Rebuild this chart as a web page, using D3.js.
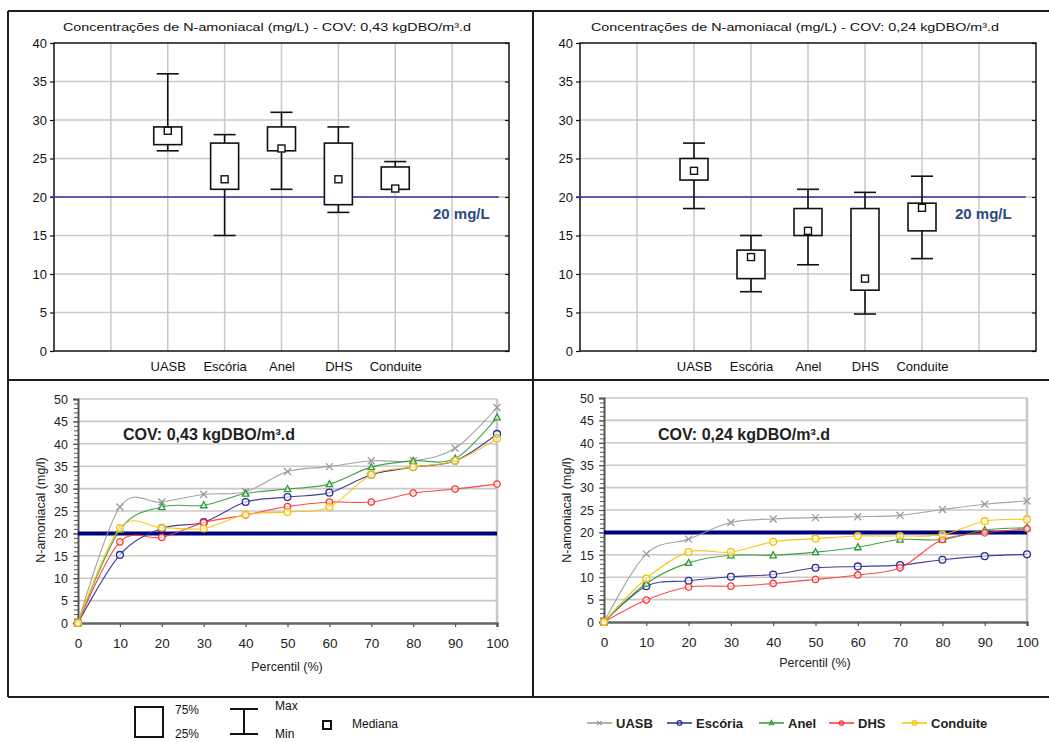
<!DOCTYPE html>
<html>
<head>
<meta charset="utf-8">
<script src="https://cdn.jsdelivr.net/npm/d3@7"></script>
<style>
  html, body { margin: 0; padding: 0; background: #fff; }
  svg { display: block; font-family: "Liberation Sans", Arial, sans-serif; }
</style>
</head>
<body>
<svg id="chart" width="1049" height="742"></svg>
<script>
// ---- Data ---------------------------------------------------------------
const categories = ["UASB", "Escória", "Anel", "DHS", "Conduite"];

// Box plots: N-amoniacal (mg/L), COV 0,43 kgDBO/m³.d
const min43    = [26.0, 15.0, 21.0, 18.0, 21.0];
const q1_43    = [26.8, 21.0, 26.0, 19.0, 21.0];
const median43 = [28.6, 22.3, 26.3, 22.3, 21.1];
const q3_43    = [29.1, 27.0, 29.1, 27.0, 23.9];
const max43    = [36.0, 28.1, 31.0, 29.1, 24.6];

// Box plots: COV 0,24 kgDBO/m³.d
const min24    = [18.5, 7.7, 11.2, 4.8, 12.0];
const q1_24    = [22.2, 9.4, 15.0, 7.9, 15.6];
const median24 = [23.4, 12.2, 15.6, 9.4, 18.6];
const q3_24    = [25.0, 13.1, 18.5, 18.5, 19.2];
const max24    = [27.0, 15.0, 21.0, 20.6, 22.7];

const boxTicks = [0, 5, 10, 15, 20, 25, 30, 35, 40];
const limitValue = 20;
const limitLabel = "20 mg/L";

// Percentile curves
const percentiles = [0, 10, 20, 30, 40, 50, 60, 70, 80, 90, 100];
const uasb43     = [0, 25.9, 27.0, 28.7, 29.3, 33.8, 34.9, 36.2, 36.2, 39.0, 48.1];
const escoria43  = [0, 15.2, 21.1, 22.5, 27.0, 28.1, 29.1, 33.1, 34.8, 36.2, 42.2];
const anel43     = [0, 20.8, 25.9, 26.3, 28.9, 29.9, 31.0, 34.8, 36.2, 36.7, 45.9];
const dhs43      = [0, 18.1, 19.1, 22.4, 24.1, 26.0, 27.0, 27.0, 29.0, 29.9, 31.0];
const conduite43 = [0, 21.2, 21.3, 21.1, 24.2, 24.8, 25.9, 33.1, 34.8, 36.2, 41.2];

const uasb24     = [0, 15.2, 18.5, 22.2, 23.0, 23.3, 23.5, 23.8, 25.1, 26.3, 27.0];
const escoria24  = [0, 8.0, 9.2, 10.1, 10.6, 12.1, 12.4, 12.7, 13.9, 14.7, 15.1];
const anel24     = [0, 8.6, 13.2, 14.9, 14.9, 15.6, 16.7, 18.4, 18.4, 20.5, 21.0];
const dhs24      = [0, 4.9, 7.8, 8.0, 8.6, 9.5, 10.5, 12.1, 18.4, 19.9, 20.8];
const conduite24 = [0, 9.7, 15.6, 15.6, 17.9, 18.6, 19.2, 19.2, 19.5, 22.5, 22.9];

const lineTicksY = [0, 5, 10, 15, 20, 25, 30, 35, 40, 45, 50];
const lineTicksX = [0, 10, 20, 30, 40, 50, 60, 70, 80, 90, 100];

const seriesStyle = [
  { name: "UASB",     color: "#9a9a9a", marker: "cross" },
  { name: "Escória",  color: "#2b2b95", marker: "circle" },
  { name: "Anel",     color: "#2f9a34", marker: "triangle" },
  { name: "DHS",      color: "#ff3333", marker: "diamond" },
  { name: "Conduite", color: "#f7c000", marker: "circle" }
];

const svg = d3.select("#chart");
const FONT = "'Liberation Sans', Arial, sans-serif";

// ---- Panel frame --------------------------------------------------------
const frame = svg.append("g").attr("stroke", "#1e1e1e").attr("stroke-width", 2);
[[8, 11, 1049, 11], [8, 380, 1049, 380], [8, 697, 1049, 697],
 [8, 11, 8, 697], [533, 11, 533, 697]].forEach(l =>
  frame.append("line").attr("x1", l[0]).attr("y1", l[1]).attr("x2", l[2]).attr("y2", l[3]));

// ---- Box-plot panel -----------------------------------------------------
function boxPanel(o) {
  const g = svg.append("g");
  const x = d3.scaleLinear().domain([0, 8]).range([o.left, o.right]);
  const y = d3.scaleLinear().domain([0, 40]).range([o.bottom, o.top]);

  // grid
  g.append("g").selectAll("line").data(d3.range(1, 8)).join("line")
    .attr("x1", d => x(d)).attr("x2", d => x(d))
    .attr("y1", o.top).attr("y2", o.bottom)
    .attr("stroke", "#c9c9c9").attr("stroke-width", 1.5);
  g.append("g").selectAll("line").data(boxTicks.slice(1, -1)).join("line")
    .attr("x1", o.left).attr("x2", o.right)
    .attr("y1", d => y(d)).attr("y2", d => y(d))
    .attr("stroke", "#c9c9c9").attr("stroke-width", 1.5);

  // frame
  g.append("rect").attr("x", o.left).attr("y", o.top)
    .attr("width", o.right - o.left).attr("height", o.bottom - o.top)
    .attr("fill", "none").attr("stroke", "#111").attr("stroke-width", 1.5);

  // y axis
  const ya = g.append("g").attr("transform", `translate(${o.left},0)`)
    .call(d3.axisLeft(y).tickValues(boxTicks).tickSize(4).tickPadding(3));
  ya.select(".domain").remove();
  ya.selectAll("line").attr("stroke", "#111").attr("stroke-width", 1.2);
  ya.selectAll("text").attr("font-family", FONT).attr("font-size", 13).attr("fill", "#111");
  const yr = g.append("g").attr("transform", `translate(${o.right},0)`)
    .call(d3.axisLeft(y).tickValues(boxTicks).tickSize(4).tickFormat(""));
  yr.select(".domain").remove();
  yr.selectAll("line").attr("stroke", "#111").attr("stroke-width", 1.2);

  // x axis labels
  const xa = g.append("g").attr("transform", `translate(0,${o.bottom})`)
    .call(d3.axisBottom(x).tickValues(d3.range(1, 8)).tickSize(0).tickPadding(11)
      .tickFormat(d => categories[d - 2] || ""));
  xa.select(".domain").remove();
  xa.selectAll("text").attr("font-family", FONT).attr("font-size", 13).attr("fill", "#111");

  // title
  g.append("text").attr("x", o.titleX).attr("y", 31).attr("text-anchor", "middle")
    .attr("font-family", FONT).attr("font-size", 11.5).attr("fill", "#111")
    .attr("textLength", 408).attr("lengthAdjust", "spacingAndGlyphs")
    .text(o.title);

  // limit line
  g.append("line").attr("x1", x(-0.07)).attr("x2", x(7.82))
    .attr("y1", y(limitValue)).attr("y2", y(limitValue))
    .attr("stroke", "#3535a5").attr("stroke-width", 1.3);
  g.append("text").attr("x", o.labelX).attr("y", y(limitValue) + 22)
    .attr("font-family", FONT).attr("font-size", 15).attr("font-weight", "bold")
    .attr("fill", "#2c4a7e").text(limitLabel);

  // boxes
  const rows = categories.map((c, i) => ({
    c, pos: i + 2, min: o.min[i], q1: o.q1[i], med: o.med[i], q3: o.q3[i], max: o.max[i]
  }));
  const bw = 28, cw = 22, ms = 7;
  const bx = g.append("g").attr("stroke", "#111").attr("stroke-width", 1.6);
  rows.forEach(r => {
    const cx = x(r.pos);
    bx.append("line").attr("x1", cx).attr("x2", cx).attr("y1", y(r.max)).attr("y2", y(r.q3));
    bx.append("line").attr("x1", cx).attr("x2", cx).attr("y1", y(r.q1)).attr("y2", y(r.min));
    bx.append("line").attr("x1", cx - cw / 2).attr("x2", cx + cw / 2).attr("y1", y(r.max)).attr("y2", y(r.max));
    bx.append("line").attr("x1", cx - cw / 2).attr("x2", cx + cw / 2).attr("y1", y(r.min)).attr("y2", y(r.min));
    bx.append("rect").attr("x", cx - bw / 2).attr("y", y(r.q3))
      .attr("width", bw).attr("height", y(r.q1) - y(r.q3)).attr("fill", "#fff");
    bx.append("rect").attr("x", cx - ms / 2).attr("y", y(r.med) - ms / 2)
      .attr("width", ms).attr("height", ms).attr("fill", "#fff").attr("stroke-width", 1.4);
  });
}

boxPanel({
  left: 54, right: 509, top: 43, bottom: 351, titleX: 267, labelX: 433,
  title: "Concentrações de N-amoniacal (mg/L) - COV: 0,43 kgDBO/m³.d",
  min: min43, q1: q1_43, med: median43, q3: q3_43, max: max43
});
boxPanel({
  left: 580, right: 1036, top: 43, bottom: 351, titleX: 795, labelX: 955,
  title: "Concentrações de N-amoniacal (mg/L) - COV: 0,24 kgDBO/m³.d",
  min: min24, q1: q1_24, med: median24, q3: q3_24, max: max24
});

// ---- Percentile panels --------------------------------------------------
function markerPath(type, s) {
  if (type === "cross") return `M${-s},${-s}L${s},${s}M${-s},${s}L${s},${-s}`;
  if (type === "triangle") return `M0,${-s * 1.1}L${s},${s * 0.8}L${-s},${s * 0.8}Z`;
  if (type === "diamond") return d3.symbol(d3.symbolCircle, s * s * 3.2)();
  return d3.symbol(d3.symbolCircle, s * s * 3.6)();
}

function linePanel(o) {
  const g = svg.append("g");
  const x = d3.scaleLinear().domain([0, 100]).range([o.left, o.right]);
  const y = d3.scaleLinear().domain([0, 50]).range([o.bottom, o.top]);

  // horizontal grid
  g.append("g").selectAll("line").data(lineTicksY.slice(1)).join("line")
    .attr("x1", o.left).attr("x2", o.right)
    .attr("y1", d => y(d)).attr("y2", d => y(d))
    .attr("stroke", "#c8c8c8").attr("stroke-width", 1.6);
  // right border of plot area
  g.append("line").attr("x1", o.right).attr("x2", o.right)
    .attr("y1", o.top).attr("y2", o.bottom)
    .attr("stroke", "#c8c8c8").attr("stroke-width", 2.5);

  // y axis with minor ticks
  const yMinor = g.append("g").attr("transform", `translate(${o.left},0)`)
    .call(d3.axisLeft(y).tickValues(d3.range(0, 51, 1)).tickSize(4).tickFormat(""));
  yMinor.select(".domain").remove();
  yMinor.selectAll("line").attr("stroke", "#555").attr("stroke-width", 1);
  const ya = g.append("g").attr("transform", `translate(${o.left},0)`)
    .call(d3.axisLeft(y).tickValues(lineTicksY).tickSize(5).tickPadding(6));
  ya.select(".domain").attr("stroke", "#555").attr("stroke-width", 2);
  ya.selectAll(".tick line").attr("stroke", "#555").attr("stroke-width", 1.2);
  ya.selectAll("text").attr("font-family", FONT).attr("font-size", 13.5).attr("fill", "#222")
    .attr("transform", "scale(0.92,1)");

  // x axis
  const xa = g.append("g").attr("transform", `translate(0,${o.bottom})`)
    .call(d3.axisBottom(x).tickValues(lineTicksX).tickSize(4).tickPadding(11));
  xa.select(".domain").attr("stroke", "#666").attr("stroke-width", 2.5);
  xa.selectAll(".tick line").attr("stroke", "#555").attr("stroke-width", 1.2);
  xa.selectAll("text").attr("font-family", FONT).attr("font-size", 13.5).attr("fill", "#222");

  // axis titles
  g.append("text").attr("transform", `translate(${o.yTitleX},${o.yTitleY}) rotate(-90)`)
    .attr("text-anchor", "middle").attr("font-family", FONT).attr("font-size", 12.5)
    .attr("fill", "#222").text("N-amoniacal (mg/l)");
  g.append("text").attr("x", o.xTitleX).attr("y", o.xTitleY).attr("text-anchor", "middle")
    .attr("font-family", FONT).attr("font-size", 12.5).attr("fill", "#222").text("Percentil (%)");

  // COV label
  g.append("text").attr("x", o.covX).attr("y", o.covY)
    .attr("font-family", FONT).attr("font-size", 16).attr("font-weight", "bold")
    .attr("fill", "#222").attr("textLength", 172).attr("lengthAdjust", "spacingAndGlyphs")
    .text(o.cov);

  // limit line
  g.append("line").attr("x1", x(0)).attr("x2", x(100))
    .attr("y1", y(limitValue)).attr("y2", y(limitValue))
    .attr("stroke", "#00007f").attr("stroke-width", 4);

  // series
  const line = d3.line().x((d, i) => x(percentiles[i])).y(d => y(d))
    .curve(d3.curveCardinal.tension(0));
  o.series.forEach((vals, si) => {
    const st = seriesStyle[si];
    g.append("path").attr("d", line(vals)).attr("fill", "none")
      .attr("stroke", st.color).attr("stroke-width", 1.1).attr("opacity", 0.9);
    g.append("g").selectAll("path").data(vals).join("path")
      .attr("transform", (d, i) => `translate(${x(percentiles[i])},${y(d)})`)
      .attr("d", markerPath(st.marker, st.marker === "cross" ? 3.5 : 3.2))
      .attr("fill", st.marker === "cross" ? "none" : "rgba(255,255,255,0.6)")
      .attr("stroke", st.color).attr("stroke-width", 1.3);
  });
}

linePanel({
  left: 78, right: 497, top: 399, bottom: 623,
  yTitleX: 45, yTitleY: 510, xTitleX: 287, xTitleY: 671,
  covX: 123, covY: 440, cov: "COV: 0,43 kgDBO/m³.d",
  series: [uasb43, escoria43, anel43, dhs43, conduite43]
});
linePanel({
  left: 604, right: 1027, top: 398, bottom: 622,
  yTitleX: 571, yTitleY: 510, xTitleX: 815, xTitleY: 667,
  covX: 658, covY: 440, cov: "COV: 0,24 kgDBO/m³.d",
  series: [uasb24, escoria24, anel24, dhs24, conduite24]
});

// ---- Box-plot legend ----------------------------------------------------
const lg = svg.append("g").attr("stroke", "#111").attr("stroke-width", 2);
lg.append("rect").attr("x", 135).attr("y", 707).attr("width", 28).attr("height", 30).attr("fill", "#fff");
lg.append("line").attr("x1", 230).attr("x2", 258).attr("y1", 709).attr("y2", 709);
lg.append("line").attr("x1", 230).attr("x2", 258).attr("y1", 734).attr("y2", 734);
lg.append("line").attr("x1", 244).attr("x2", 244).attr("y1", 709).attr("y2", 734);
lg.append("rect").attr("x", 323).attr("y", 721).attr("width", 8).attr("height", 8)
  .attr("fill", "#fff").attr("stroke-width", 2);
const lgText = [["75%", 175, 714], ["25%", 175, 738], ["Max", 275, 710], ["Min", 275, 738], ["Mediana", 352, 728]];
svg.append("g").selectAll("text").data(lgText).join("text")
  .attr("x", d => d[1]).attr("y", d => d[2]).attr("font-family", FONT)
  .attr("font-size", 12).attr("fill", "#111").text(d => d[0]);

// ---- Series legend ------------------------------------------------------
const legendX = [587, 667, 759, 829, 902];
const sl = svg.append("g");
seriesStyle.forEach((st, i) => {
  const x0 = legendX[i], yL = 723;
  sl.append("line").attr("x1", x0).attr("x2", x0 + 25).attr("y1", yL).attr("y2", yL)
    .attr("stroke", st.color).attr("stroke-width", 1.5);
  sl.append("path").attr("transform", `translate(${x0 + 12.5},${yL})`)
    .attr("d", markerPath(st.marker, 2.2)).attr("fill", "none")
    .attr("stroke", st.color).attr("stroke-width", 1.2);
  sl.append("text").attr("x", x0 + 29).attr("y", yL + 5)
    .attr("font-family", FONT).attr("font-size", 13).attr("font-weight", "bold")
    .attr("fill", "#222").text(st.name);
});
</script>
</body>
</html>
